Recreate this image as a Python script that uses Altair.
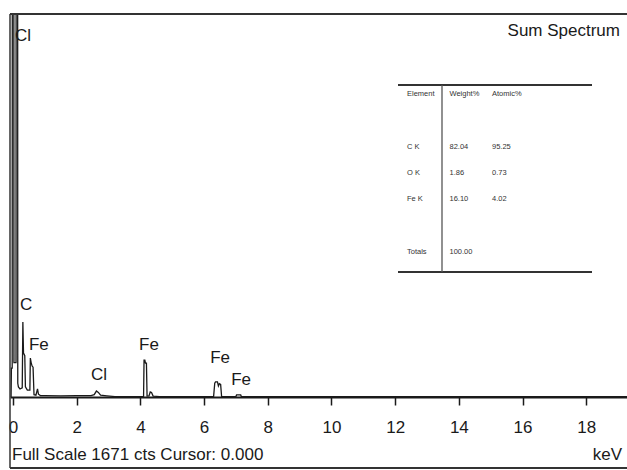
import altair as alt
import pandas as pd

# EDS sum spectrum: energy (keV) and counts
energy_kev = [
    -0.06, -0.05, -0.025, -0.02, 0.025, 0.03, 0.095, 0.10, 0.145, 0.15,
    0.17, 0.22, 0.29, 0.31, 0.33, 0.37, 0.39, 0.45, 0.53, 0.545,
    0.57, 0.60, 0.63, 0.66, 0.72, 0.77, 0.80, 0.86, 1.0, 1.5,
    2.0, 2.45, 2.55, 2.62, 2.68, 2.75, 2.95, 3.2, 3.6, 4.10,
    4.115, 4.14, 4.16, 4.19, 4.21, 4.27, 4.31, 4.35, 4.40, 4.6,
    5.2, 5.8, 6.30, 6.335, 6.36, 6.42, 6.45, 6.48, 6.52, 6.55,
    6.8, 7.0, 7.02, 7.15, 7.17, 8.0, 12.0, 19.3,
]
counts = [
    0, 126, 126, 2600, 2600, 150, 150, 2600, 2600, 60,
    44, 35, 40, 327, 192, 180, 44, 30, 30, 170,
    150, 135, 130, 10, 8, 35, 12, 6, 6, 5,
    6, 6, 10, 26, 20, 8, 5, 2, 2, 3,
    161, 161, 148, 148, 4, 5, 22, 20, 4, 2,
    2, 2, 3, 60, 66, 66, 48, 58, 55, 3,
    2, 2, 9, 9, 2, 1, 1, 1,
]

# peak annotations (left edge of text at energy, vertical centre at counts)
peak_names = ["Cl", "C", "Fe", "Cl", "Fe", "Fe", "Fe"]
peak_kev = [0.06, 0.22, 0.50, 2.45, 3.96, 6.19, 6.85]
peak_cts = [1575, 401, 227, 96, 227, 170, 74]

full_scale = 1671
cursor = "0.000"

# quantification table
table_header = ["Element", "Weight%", "Atomic%"]
elements = ["C K", "O K", "Fe K", "Totals"]
weight_pct = ["82.04", "1.86", "16.10", "100.00"]
atomic_pct = ["95.25", "0.73", "4.02", ""]
row_slots = [2, 3, 4, 6]

FONT = "Liberation Sans"
FS = 17
INK = "#1a1a1a"
W, H = 617, 383

spec = pd.DataFrame({"keV": energy_kev, "cts": counts, "i": range(len(counts))})
labels = pd.DataFrame({"keV": peak_kev, "cts": peak_cts, "name": peak_names})

cells = []
for c, h in enumerate(table_header):
    cells.append({"text": h, "col": c, "slot": 0})
for r, el in enumerate(elements):
    for c, v in enumerate([el, weight_pct[r], atomic_pct[r]]):
        cells.append({"text": v, "col": c, "slot": row_slots[r]})
cells = pd.DataFrame(cells)

one = pd.DataFrame({"a": [0]})

xscale = alt.Scale(domain=[-0.094, 19.28], nice=False, zero=False)
yscale = alt.Scale(domain=[0, full_scale], nice=False)

tick_vals = [v / 2 for v in range(0, 39)]
xaxis = alt.Axis(
    values=tick_vals,
    labelExpr="datum.value % 2 === 0 ? datum.label : ''",
    tickSize={"condition": {"test": "datum.value % 2 === 0", "value": 8}, "value": 5},
    tickColor=INK,
    tickWidth=1.5,
    domainColor=INK,
    domainWidth=2,
    grid=False,
    labelFont=FONT,
    labelFontSize=FS,
    labelColor=INK,
    labelPadding=14,
    labelOverlap=False,
    labelFlush=False,
    labelBound=False,
    title=None,
)

line = alt.Chart(spec).mark_line(clip=True, color=INK, strokeWidth=1.3).encode(
    x=alt.X("keV:Q", scale=xscale, axis=xaxis),
    y=alt.Y("cts:Q", scale=yscale, axis=None),
    order="i:Q",
)

peak_text = alt.Chart(labels).mark_text(
    align="left", baseline="middle", font=FONT, fontSize=FS, color=INK
).encode(x="keV:Q", y="cts:Q", text="name:N")

frame_top = alt.Chart(one).mark_rule(color="#333", strokeWidth=2).encode(
    x=alt.value(0), x2=alt.value(W), y=alt.value(0))
frame_left = alt.Chart(one).mark_rule(color="#333", strokeWidth=1.5).encode(
    x=alt.value(0), y=alt.value(0), y2=alt.value(454))
frame_bottom = alt.Chart(one).mark_rule(color="#333", strokeWidth=2).encode(
    x=alt.value(0), x2=alt.value(W), y=alt.value(454))

title_text = alt.Chart(one).mark_text(
    align="right", baseline="middle", font=FONT, fontSize=FS, color=INK
).encode(x=alt.value(610), y=alt.value(17), text=alt.value("Sum Spectrum"))

footer_text = alt.Chart(one).mark_text(
    align="left", baseline="middle", font=FONT, fontSize=FS, color=INK
).encode(x=alt.value(2), y=alt.value(441),
         text=alt.value(f"Full Scale {full_scale} cts Cursor: {cursor}"))

unit_text = alt.Chart(one).mark_text(
    align="right", baseline="middle", font=FONT, fontSize=FS, color=INK
).encode(x=alt.value(612), y=alt.value(441), text=alt.value("keV"))

# table rules
tab_top = alt.Chart(one).mark_rule(color="#333", strokeWidth=2).encode(
    x=alt.value(388), x2=alt.value(582), y=alt.value(71))
tab_bottom = alt.Chart(one).mark_rule(color="#333", strokeWidth=2).encode(
    x=alt.value(388), x2=alt.value(582), y=alt.value(258))
tab_mid = alt.Chart(one).mark_rule(color="#555", strokeWidth=1.3).encode(
    x=alt.value(432), y=alt.value(71), y2=alt.value(258))

tab_text = alt.Chart(cells).mark_text(
    align="left", baseline="middle", font=FONT, fontSize=7.5, color="#333"
).transform_calculate(
    tx="397 + 42.5 * datum.col",
    ty="80 + 26.25 * datum.slot",
).encode(
    x=alt.X("tx:Q", scale=None, axis=None),
    y=alt.Y("ty:Q", scale=None, axis=None),
    text="text:N",
)

chart = alt.layer(
    line, peak_text, frame_top, frame_left, frame_bottom,
    title_text, footer_text, unit_text,
    tab_top, tab_bottom, tab_mid, tab_text,
).properties(
    width=W, height=H,
    padding={"left": 10, "top": 14, "right": 0, "bottom": 73},
    autosize=alt.AutoSizeParams(type="none"),
    background="white",
).configure_view(stroke=None)

chart.save("out.html", embed_options={"renderer": "svg", "actions": False})
